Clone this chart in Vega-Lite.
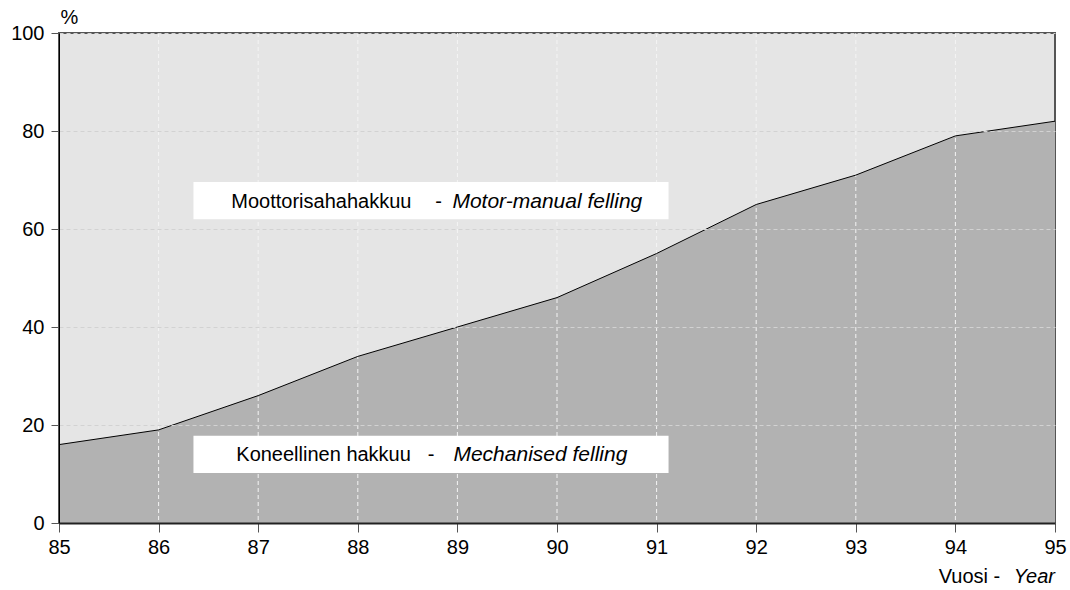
{
  "$schema": "https://vega.github.io/schema/vega-lite/v6.json",
  "width": 996,
  "height": 490,
  "autosize": {"type": "none"},
  "padding": {"left": 59, "top": 33, "right": 15, "bottom": 67},
  "background": "white",
  "config": {
    "view": {"fill": "#e5e5e5", "stroke": "#555555", "strokeWidth": 2},
    "font": "Liberation Sans",
    "axis": {
      "labelFontSize": 20,
      "labelColor": "black",
      "labelFont": "Liberation Sans",
      "titleFont": "Liberation Sans",
      "tickColor": "#555555",
      "labelFlush": false
    }
  },
  "datasets": {
    "felling": [
      {"year": 85, "share": 16},
      {"year": 86, "share": 19},
      {"year": 87, "share": 26},
      {"year": 88, "share": 34},
      {"year": 89, "share": 40},
      {"year": 90, "share": 46},
      {"year": 91, "share": 55},
      {"year": 92, "share": 65},
      {"year": 93, "share": 71},
      {"year": 94, "share": 79},
      {"year": 95, "share": 82}
    ],
    "one": [{"n": 1}]
  },
  "data": {"name": "felling"},
  "layer": [
    {
      "mark": {"type": "area", "color": "#b2b2b2", "opacity": 1},
      "encoding": {
        "x": {
          "field": "year",
          "type": "quantitative",
          "scale": {"domain": [85, 95], "nice": false, "zero": false},
          "axis": {
            "title": null,
            "values": [85, 86, 87, 88, 89, 90, 91, 92, 93, 94, 95],
            "format": "d",
            "grid": false,
            "zindex": 1,
            "domainColor": "#222222",
            "domainWidth": 2,
            "tickSize": 9,
            "labelFontSize": 20,
            "labelPadding": 5
          }
        },
        "y": {
          "field": "share",
          "type": "quantitative",
          "scale": {"domain": [0, 100], "nice": false},
          "axis": {
            "title": "%",
            "titleAngle": 0,
            "titleX": 10,
            "titleY": -6,
            "titleAlign": "center",
            "titleBaseline": "bottom",
            "titleFontSize": 20,
            "titleFontWeight": "normal",
            "titleColor": "black",
            "values": [0, 20, 40, 60, 80, 100],
            "grid": true,
            "gridColor": "#d2d2d2",
            "gridDash": [4, 3],
            "gridWidth": 1,
            "zindex": 1,
            "domainColor": "black",
            "domainWidth": 1,
            "tickSize": 8,
            "labelFontSize": 20,
            "labelPadding": 7
          }
        }
      }
    },
    {
      "transform": [{"filter": "datum.year > 85 && datum.year < 95"}],
      "mark": {"type": "rule", "color": "#f4f4f4", "strokeDash": [4, 3], "strokeWidth": 1},
      "encoding": {"x": {"field": "year", "type": "quantitative"}}
    },
    {
      "mark": {"type": "line", "color": "black", "strokeWidth": 1},
      "encoding": {
        "x": {"field": "year", "type": "quantitative"},
        "y": {"field": "share", "type": "quantitative"}
      }
    },
    {
      "data": {"name": "one"},
      "mark": {"type": "rect", "fill": "white"},
      "encoding": {
        "x": {"datum": 86.35},
        "x2": {"datum": 91.12},
        "y": {"datum": 69.6},
        "y2": {"datum": 62.0}
      }
    },
    {
      "data": {"name": "one"},
      "mark": {"type": "rect", "fill": "white"},
      "encoding": {
        "x": {"datum": 86.35},
        "x2": {"datum": 91.12},
        "y": {"datum": 17.8},
        "y2": {"datum": 10.2}
      }
    },
    {
      "data": {"name": "one"},
      "mark": {"type": "text", "align": "left", "baseline": "middle", "fontSize": 20, "fill": "black"},
      "encoding": {
        "x": {"datum": 86.73},
        "y": {"datum": 65.6},
        "text": {"value": "Moottorisahahakkuu"}
      }
    },
    {
      "data": {"name": "one"},
      "mark": {"type": "text", "align": "center", "baseline": "middle", "fontSize": 20, "fill": "black"},
      "encoding": {
        "x": {"datum": 88.81},
        "y": {"datum": 65.6},
        "text": {"value": "-"}
      }
    },
    {
      "data": {"name": "one"},
      "mark": {"type": "text", "align": "left", "baseline": "middle", "fontSize": 21, "fontStyle": "italic", "fill": "black"},
      "encoding": {
        "x": {"datum": 88.95},
        "y": {"datum": 65.6},
        "text": {"value": "Motor-manual felling"}
      }
    },
    {
      "data": {"name": "one"},
      "mark": {"type": "text", "align": "left", "baseline": "middle", "fontSize": 20, "fill": "black"},
      "encoding": {
        "x": {"datum": 86.78},
        "y": {"datum": 13.9},
        "text": {"value": "Koneellinen hakkuu"}
      }
    },
    {
      "data": {"name": "one"},
      "mark": {"type": "text", "align": "center", "baseline": "middle", "fontSize": 20, "fill": "black"},
      "encoding": {
        "x": {"datum": 88.735},
        "y": {"datum": 13.9},
        "text": {"value": "-"}
      }
    },
    {
      "data": {"name": "one"},
      "mark": {"type": "text", "align": "left", "baseline": "middle", "fontSize": 21, "fontStyle": "italic", "fill": "black"},
      "encoding": {
        "x": {"datum": 88.96},
        "y": {"datum": 13.9},
        "text": {"value": "Mechanised felling"}
      }
    },
    {
      "data": {"name": "one"},
      "mark": {"type": "text", "align": "right", "baseline": "middle", "fontSize": 20, "fill": "black"},
      "encoding": {
        "x": {"datum": 94.45},
        "y": {"datum": -11.0},
        "text": {"value": "Vuosi -"}
      }
    },
    {
      "data": {"name": "one"},
      "mark": {"type": "text", "align": "right", "baseline": "middle", "fontSize": 20, "fontStyle": "italic", "fill": "black"},
      "encoding": {
        "x": {"datum": 95},
        "y": {"datum": -11.0},
        "text": {"value": "Year"}
      }
    }
  ]
}
